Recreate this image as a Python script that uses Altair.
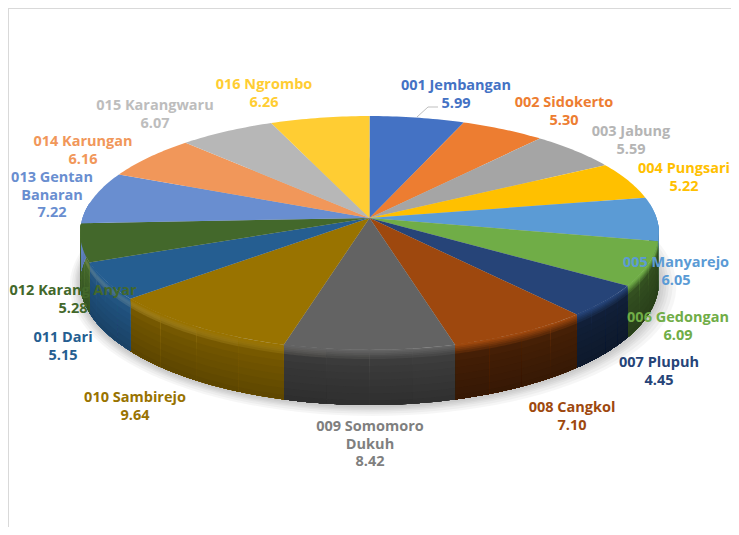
import numpy as np
import altair as alt

names = ["001 Jembangan", "002 Sidokerto", "003 Jabung", "004 Pungsari", "005 Manyarejo", "006 Gedongan",
         "007 Plupuh", "008 Cangkol", "009 Somomoro Dukuh", "010 Sambirejo", "011 Dari", "012 Karang Anyar",
         "013 Gentan Banaran", "014 Karungan", "015 Karangwaru", "016 Ngrombo"]
values = [5.99, 5.30, 5.59, 5.22, 6.05, 6.09, 4.45, 7.10, 8.42, 9.64, 5.15, 5.28, 7.22, 6.16, 6.07, 6.26]
colors = ["#4472C4", "#ED7D31", "#A5A5A5", "#FFC000", "#5B9BD5", "#70AD47", "#264478", "#9E480E",
          "#636363", "#997300", "#255E91", "#43682B", "#698ED0", "#F1975A", "#B7B7B7", "#FFCD33"]
text_colors = ["#4472C4", "#ED7D31", "#B5B5B5", "#FFC000", "#5B9BD5", "#70AD47", "#264478", "#9E480E",
               "#7F7F7F", "#997300", "#255E91", "#43682B", "#698ED0", "#F1975A", "#BDBDBD", "#FFCD33"]
wall_shade = [.7, .7, .7, .7, .62, .40, .40, .38, .55, .74, .86, .95, .95, .9, .9, .9]
label_lines = [["001 Jembangan"], ["002 Sidokerto"], ["003 Jabung"], ["004 Pungsari"], ["005 Manyarejo"],
               ["006 Gedongan"], ["007 Plupuh"], ["008 Cangkol"], ["009 Somomoro", "Dukuh"], ["010 Sambirejo"],
               ["011 Dari"], ["012 Karang Anyar"], ["013 Gentan", "Banaran"], ["014 Karungan"],
               ["015 Karangwaru"], ["016 Ngrombo"]]
label_anchor = [(456, 86), (564, 103), (631, 132), (684, 169), (676, 263), (678, 318), (659, 363), (572, 408),
                (370, 427), (135, 398), (63, 338), (73, 291), (52, 178), (83, 142), (155, 106), (264, 85)]

CX, CY, A, B, K, DEPTH = 369.5, 218, 115, 287, .128, 48


def project(t, r=1.0, z=0.0):
    X, Y = r * np.sin(t), -r * np.cos(t)
    s = 1 / (1 - K * Y)
    return [float(CX + B * X * s), float(CY + A * Y * s + z * s)]


def feature(ring, color):
    ring = list(ring) + [ring[0]]
    return {"type": "Feature", "properties": {"c": color},
            "geometry": {"type": "Polygon", "coordinates": [ring]}}


def mix(c, f, toward=None, w=0.0):
    rgb = np.array([int(c[i:i + 2], 16) for i in (1, 3, 5)], float) * f
    if toward is not None:
        rgb = rgb * (1 - w) + np.array(toward, float) * w
    rgb = np.clip(rgb, 0, 255).astype(int)
    return "#%02x%02x%02x" % tuple(rgb)


edges = np.cumsum([0] + values) / sum(values) * 2 * np.pi
T_MIN, T_MAX = np.radians(82.5), np.radians(277.5)
tops, walls = [], []
ZS = [0, 1.5, 3, 4.5, 6, 8, 14, 20, 26, 32, 38, 44]
for i, c in enumerate(colors):
    t0, t1 = edges[i], edges[i + 1]
    arc = np.linspace(t0, t1, max(6, int((t1 - t0) * 60)))
    tops.append(feature([[CX, CY]] + [project(t) for t in arc], c))
    lo, hi = max(t0, T_MIN), min(t1, T_MAX)
    if lo >= hi:
        continue
    # each piece runs to the far end and to the bottom, and is painted over by the next: no seams
    for a in np.linspace(lo, hi, 5)[:-1]:
        mid = a + (hi - lo) / 8
        left = max(0.0, -np.sin(mid))
        tilt = 1 + .06 * (-np.sin(mid)) * np.cos(mid) * 2
        for z in ZS:
            zm = z / DEPTH
            f = wall_shade[i] * (1.13 - .28 * zm) * tilt
            if zm < .17:
                blend = 1 - zm / .17
                f = f * (1 - blend) + blend
                col = mix(c, f, (255, 235, 170), .2 * left * np.sin(np.pi * zm / .17))
            else:
                col = mix(c, f)
            ts = np.linspace(a, hi, 24)
            ring = [project(t, z=z) for t in ts] + [project(t, z=DEPTH) for t in ts[::-1]]
            walls.append(feature(ring, col))

rows = []
for i, lines in enumerate(label_lines):
    all_lines = lines + ["%.2f" % values[i]]
    for j, line in enumerate(all_lines):
        rows.append({"x": label_anchor[i][0], "y": label_anchor[i][1] + j * 17.7,
                     "t": line, "c": text_colors[i]})

proj = alt.Projection(type="identity", scale=1, translate=[-8, -8])
xs = alt.Scale(domain=[8, 731], range=[0, 723], nice=False, zero=False)
ys = alt.Scale(domain=[8, 527], range=[0, 519], nice=False, zero=False)
layers = []

# soft ground shadow under the disc
for grow in [14, 11, 8, 6, 4, 2]:
    ts = np.linspace(0, 2 * np.pi, 120, endpoint=False)
    ring = []
    for t in ts:
        px, py = project(t, z=DEPTH)
        ring.append([CX + (px - CX) * (1 + grow / 290) + grow * .25, py + (py - CY) * grow / 260 + 1])
    layers.append(alt.Chart(alt.Data(values=[feature(ring, "#000000")])).mark_geoshape(
        fill="#000000", fillOpacity=.035, strokeWidth=0).project(**proj.to_dict()))

for feats in (walls, tops):
    layers.append(alt.Chart(alt.Data(values=feats)).mark_geoshape(strokeWidth=0).encode(
        fill=alt.Fill("properties.c:N", scale=None, legend=None),
    ).project(**proj.to_dict()))

leader_x = [417, 428, 438]
leader_y = [117, 107, 107]
layers.append(alt.Chart(alt.Data(values=[{"x": a, "y": b, "o": n} for n, (a, b) in enumerate(zip(leader_x, leader_y))]))
              .mark_line(color="#BFBFBF", strokeWidth=1).encode(
    x=alt.X("x:Q", scale=xs, axis=None), y=alt.Y("y:Q", scale=ys, axis=None), order="o:Q"))

layers.append(alt.Chart(alt.Data(values=rows)).mark_text(
    font="Open Sans", fontWeight="bold", fontSize=14.5, align="center", baseline="middle").encode(
    x=alt.X("x:Q", scale=xs, axis=None), y=alt.Y("y:Q", scale=ys, axis=None),
    text="t:N", color=alt.Color("c:N", scale=None, legend=None)))

layers.append(alt.Chart(alt.Data(values=[{"a": 1}])).mark_rule(color="#D9D9D9", strokeWidth=1).encode(
    x=alt.value(0.5), y=alt.value(0), y2=alt.value(519)))
layers.append(alt.Chart(alt.Data(values=[{"a": 1}])).mark_rule(color="#D9D9D9", strokeWidth=1).encode(
    x=alt.value(0), x2=alt.value(723), y=alt.value(0.5)))

chart = alt.layer(*layers).properties(
    width=723, height=519, padding=0, autosize=alt.AutoSizeParams(type="none"), background="#FFFFFF"
).configure_view(stroke=None)
chart.save("out.html", embed_options={"renderer": "svg", "actions": False})
